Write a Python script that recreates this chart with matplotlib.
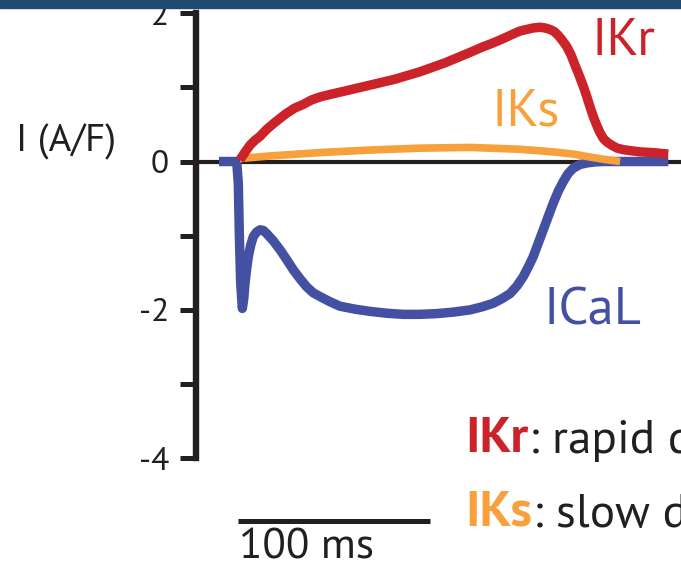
import matplotlib
matplotlib.use("Agg")
from matplotlib import pyplot as plt
from matplotlib.patches import Rectangle

plt.rcParams['font.family'] = ['PT Sans', 'Open Sans', 'DejaVu Sans']
plt.rcParams['axes.unicode_minus'] = False

# time in ms (0 = upstroke), current in A/F
ikr_t = [1.0, 3.5, 6.25, 9.0, 11.5, 14.8, 18.4, 21.8, 25.3, 29.5, 34.0, 38.3, 42.7,
         49.0, 55.7, 62.2, 68.8, 75.3, 81.8, 88.3, 94.8, 101.3, 107.8, 114.3,
         120.8, 127.0, 133.0, 138.4, 143.4, 147.0, 150.3, 153.8, 157.3, 160.0,
         162.5, 164.8, 166.8, 169.0, 171.2, 173.4, 175.5, 177.7, 179.9, 181.6,
         183.3, 185.0, 186.8, 188.5, 190.3, 192.3, 194.6, 197.5, 200.7, 204.8,
         209.4, 216.3, 224.1]
ikr_i = [0.02, 0.12, 0.22, 0.29, 0.34, 0.43, 0.51, 0.58, 0.65, 0.72, 0.77, 0.83, 0.87,
         0.91, 0.95, 0.99, 1.03, 1.07, 1.11, 1.16, 1.21, 1.27, 1.33, 1.40,
         1.47, 1.54, 1.60, 1.66, 1.72, 1.76, 1.78, 1.80, 1.81, 1.80,
         1.78, 1.75, 1.70, 1.63, 1.55, 1.44, 1.30, 1.16, 1.01, 0.88,
         0.74, 0.61, 0.49, 0.39, 0.31, 0.26, 0.22, 0.18, 0.16, 0.145,
         0.13, 0.12, 0.10]

iks_t = [1.0, 16.7, 42.7, 68.8, 94.8, 120.8, 146.9, 164.2, 174.6, 183.3, 190.3, 199.0]
iks_i = [0.04, 0.075, 0.12, 0.155, 0.18, 0.19, 0.165, 0.13, 0.10, 0.06, 0.03, 0.0]

ical_t = [-9.9, -0.7, 0.16, 0.68, 1.4, 2.26, 3.0, 3.65, 4.5, 5.4, 6.6, 8.0, 9.7, 11.5,
          13.2, 14.9, 18.4, 21.9, 25.3, 28.8, 32.3, 35.8, 39.2, 42.7, 47.9, 53.1,
          60.9, 68.8, 77.4, 86.1, 94.8, 103.5, 112.1, 120.8, 127.0, 133.0, 137.4,
          141.7, 145.2, 148.6, 151.2, 153.8, 156.4, 159.0, 161.6, 164.2, 166.8,
          169.4, 172.0, 174.6, 178.1, 181.6, 185.9, 190.3, 224.1]
ical_i = [0.0, 0.0, -0.29, -0.97, -1.64, -1.98, -1.85, -1.64, -1.45, -1.28, -1.13, -1.01,
          -0.95, -0.92, -0.93, -0.97, -1.07, -1.19, -1.32, -1.46, -1.58, -1.69, -1.77,
          -1.82, -1.89, -1.95, -1.99, -2.02, -2.045, -2.06, -2.06, -2.05, -2.03, -2.0,
          -1.96, -1.91, -1.85, -1.78, -1.68, -1.55, -1.42, -1.28, -1.10, -0.92, -0.74,
          -0.56, -0.40, -0.27, -0.16, -0.09, -0.04, -0.02, -0.005, 0.0, 0.0]

yticks = [-4, -2, 0, 2]
yticks_minor = [-3, -1, 1]
scale_bar = [0, 100]

red = '#cc2229'
orange = '#f7a03c'
blue = '#4450a2'
ink = '#231f20'

fig = plt.figure(figsize=(6.81, 5.62), dpi=100)
ax = fig.add_axes([0, 0, 1, 1])
ax.set_xlim(-123.96, 230.73)
ax.set_ylim(-5.398, 2.177)
ax.patch.set_visible(False)

for side in ['top', 'right', 'bottom']:
    ax.spines[side].set_visible(False)
ax.spines['left'].set_position(('data', -22.0))
ax.spines['left'].set_bounds(-4, 2)
ax.spines['left'].set_linewidth(4.6)
ax.spines['left'].set_color(ink)
ax.set_xticks([])
ax.set_yticks(yticks)
ax.set_yticks(yticks_minor, minor=True)
ax.tick_params(axis='y', which='both', direction='out', length=11.3, width=3.6,
               color=ink, pad=8, labelsize=24, labelcolor=ink)

# zero line
ax.plot([-22.0, 230.73], [0, 0], color=ink, lw=3.0, solid_capstyle='butt', zorder=1)

ax.plot(ical_t, ical_i, color=blue, lw=6.8, solid_capstyle='butt', solid_joinstyle='round', zorder=2)
ax.plot(iks_t, iks_i, color=orange, lw=5.5, solid_capstyle='butt', zorder=3)
ax.plot(ikr_t, ikr_i, color=red, lw=6.8, solid_capstyle='butt', solid_joinstyle='round', zorder=4)

ax.text(184, 1.435, 'IKr', color=red, fontsize=38, va='baseline', ha='left')
ax.text(132, 0.49, 'IKs', color=orange, fontsize=38, va='baseline', ha='left')
ax.text(159, -2.20, 'ICaL', color=blue, fontsize=38, va='baseline', ha='left')

ax.text(-115.5, 0.13, 'I (A/F)', color=ink, fontsize=28, va='baseline', ha='left')

# scale bar
ax.plot(scale_bar, [-4.84, -4.84], color=ink, lw=3.6, solid_capstyle='butt', clip_on=False)
ax.text(0.5, -5.357, '100 ms', color=ink, fontsize=31, va='baseline', ha='left')

# key
for y, name, col, desc in [(-3.91, 'IKr', red, ': rapid delayed rectifier'),
                           (-4.91, 'IKs', orange, ': slow delayed rectifier')]:
    t1 = ax.text(118.5, y, name, color=col, fontsize=37, fontweight='bold',
                 va='baseline', ha='left')
    ax.annotate(desc, xy=(1, 0), xycoords=t1, va='bottom', ha='left',
                color=ink, fontsize=34)

# header band
fig.add_artist(Rectangle((0, 1 - 8 / 562), 1, 8 / 562, transform=fig.transFigure,
                         color='#1f4a72', zorder=10))

fig.savefig('out.png', dpi=100)
